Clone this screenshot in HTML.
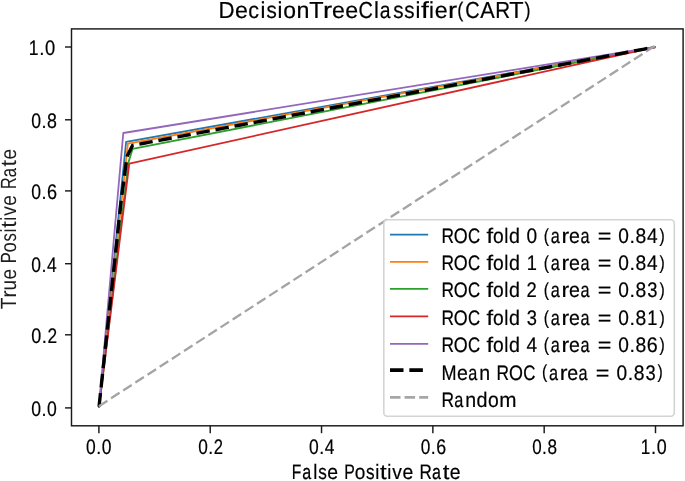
<!DOCTYPE html>
<html><head><meta charset="utf-8"><style>
html,body{margin:0;padding:0;background:#fff;}
svg{display:block;filter:blur(0.6px);}
text{font-family:"Liberation Sans", sans-serif;fill:#000;stroke:#000;stroke-width:0.2px;text-rendering:geometricPrecision;}
</style></head><body>
<svg width="685" height="481" viewBox="0 0 685 481">
<rect x="0" y="0" width="685" height="481" fill="#fff"/>
<defs><clipPath id="ax"><rect x="71.5" y="28.9" width="611.6" height="396.90000000000003"/></clipPath></defs>
<g clip-path="url(#ax)" fill="none" stroke-linejoin="round">
<polyline points="98.90,407.90 126.12,141.92 655.50,47.00" stroke="#1f77b4" stroke-width="1.8"/>
<polyline points="98.90,407.90 127.90,143.61 655.50,47.00" stroke="#ff7f0e" stroke-width="1.8"/>
<polyline points="98.90,407.90 128.51,162.13 132.57,148.95 655.50,47.00" stroke="#2ca02c" stroke-width="1.8"/>
<polyline points="98.90,407.90 129.29,163.57 655.50,47.00" stroke="#d62728" stroke-width="1.8"/>
<polyline points="98.90,407.90 123.28,133.00 655.50,47.00" stroke="#9467bd" stroke-width="1.8"/>
<polyline points="98.90,407.90 104.52,355.61 110.14,303.32 115.77,251.03 121.39,198.75 127.01,156.47 132.63,145.35 138.26,144.29 143.88,143.24 149.50,142.18 155.12,141.12 160.74,140.06 166.37,139.01 171.99,137.95 177.61,136.89 183.23,135.83 188.86,134.78 194.48,133.72 200.10,132.66 205.72,131.60 211.34,130.55 216.97,129.49 222.59,128.43 228.21,127.37 233.83,126.32 239.46,125.26 245.08,124.20 250.70,123.14 256.32,122.09 261.94,121.03 267.57,119.97 273.19,118.91 278.81,117.86 284.43,116.80 290.06,115.74 295.68,114.68 301.30,113.63 306.92,112.57 312.54,111.51 318.17,110.45 323.79,109.40 329.41,108.34 335.03,107.28 340.66,106.22 346.28,105.16 351.90,104.11 357.52,103.05 363.14,101.99 368.77,100.93 374.39,99.88 380.01,98.82 385.63,97.76 391.26,96.70 396.88,95.65 402.50,94.59 408.12,93.53 413.74,92.47 419.37,91.42 424.99,90.36 430.61,89.30 436.23,88.24 441.86,87.19 447.48,86.13 453.10,85.07 458.72,84.01 464.34,82.96 469.97,81.90 475.59,80.84 481.21,79.78 486.83,78.73 492.46,77.67 498.08,76.61 503.70,75.55 509.32,74.50 514.94,73.44 520.57,72.38 526.19,71.32 531.81,70.27 537.43,69.21 543.06,68.15 548.68,67.09 554.30,66.04 559.92,64.98 565.54,63.92 571.17,62.86 576.79,61.81 582.41,60.75 588.03,59.69 593.66,58.63 599.28,57.58 604.90,56.52 610.52,55.46 616.14,54.40 621.77,53.35 627.39,52.29 633.01,51.23 638.63,50.17 644.26,49.12 648.32,48.35" stroke="#000" stroke-width="3.4" stroke-dasharray="13.5 5.86" stroke-dashoffset="-1.3"/>
<line x1="98.9" y1="406.2" x2="655.5" y2="45.5" stroke="#a4a4a4" stroke-width="2.3" stroke-dasharray="10.14 4.35"/>
</g>
<rect x="71.5" y="28.9" width="611.6" height="396.90000000000003" fill="none" stroke="#1a1a1a" stroke-width="1.45"/>
<line x1="98.90" y1="425.8" x2="98.90" y2="433.2" stroke="#1a1a1a" stroke-width="1.45"/>
<line x1="65.0" y1="407.9" x2="71.5" y2="407.9" stroke="#1a1a1a" stroke-width="1.45"/>
<line x1="210.22" y1="425.8" x2="210.22" y2="433.2" stroke="#1a1a1a" stroke-width="1.45"/>
<line x1="65.0" y1="334.8" x2="71.5" y2="334.8" stroke="#1a1a1a" stroke-width="1.45"/>
<line x1="321.54" y1="425.8" x2="321.54" y2="433.2" stroke="#1a1a1a" stroke-width="1.45"/>
<line x1="65.0" y1="263.7" x2="71.5" y2="263.7" stroke="#1a1a1a" stroke-width="1.45"/>
<line x1="432.86" y1="425.8" x2="432.86" y2="433.2" stroke="#1a1a1a" stroke-width="1.45"/>
<line x1="65.0" y1="190.9" x2="71.5" y2="190.9" stroke="#1a1a1a" stroke-width="1.45"/>
<line x1="544.18" y1="425.8" x2="544.18" y2="433.2" stroke="#1a1a1a" stroke-width="1.45"/>
<line x1="65.0" y1="119.8" x2="71.5" y2="119.8" stroke="#1a1a1a" stroke-width="1.45"/>
<line x1="655.50" y1="425.8" x2="655.50" y2="433.2" stroke="#1a1a1a" stroke-width="1.45"/>
<line x1="65.0" y1="47.0" x2="71.5" y2="47.0" stroke="#1a1a1a" stroke-width="1.45"/>
<g><text transform="translate(86.07,454.0) scale(0.831,1)" font-size="21.0">0</text><text transform="translate(96.33,454.0) scale(0.853,1)" font-size="21.0">.</text><text transform="translate(101.87,454.0) scale(0.831,1)" font-size="21.0">0</text></g>
<g><text transform="translate(198.13,454.0) scale(0.821,1)" font-size="21.0">0</text><text transform="translate(208.26,454.0) scale(0.843,1)" font-size="21.0">.</text><text transform="translate(213.69,454.0) scale(0.792,1)" font-size="21.0">2</text></g>
<g><text transform="translate(308.92,454.0) scale(0.831,1)" font-size="21.0">0</text><text transform="translate(319.17,454.0) scale(0.853,1)" font-size="21.0">.</text><text transform="translate(324.71,454.0) scale(0.831,1)" font-size="21.0">4</text></g>
<g><text transform="translate(420.73,454.0) scale(0.821,1)" font-size="21.0">0</text><text transform="translate(430.86,454.0) scale(0.843,1)" font-size="21.0">.</text><text transform="translate(436.16,454.0) scale(0.850,1)" font-size="21.0">6</text></g>
<g><text transform="translate(532.14,454.0) scale(0.807,1)" font-size="21.0">0</text><text transform="translate(542.10,454.0) scale(0.828,1)" font-size="21.0">.</text><text transform="translate(547.42,454.0) scale(0.815,1)" font-size="21.0">8</text></g>
<g><text transform="translate(640.70,454.0) scale(0.814,1)" font-size="21.0">1</text><text transform="translate(651.07,454.0) scale(0.875,1)" font-size="21.0">.</text><text transform="translate(656.75,454.0) scale(0.852,1)" font-size="21.0">0</text></g>
<g><text transform="translate(31.21,415.79999999999995) scale(0.837,1)" font-size="21.0">0</text><text transform="translate(41.54,415.79999999999995) scale(0.859,1)" font-size="21.0">.</text><text transform="translate(47.12,415.79999999999995) scale(0.837,1)" font-size="21.0">0</text></g>
<g><text transform="translate(31.20,342.7) scale(0.856,1)" font-size="21.0">0</text><text transform="translate(41.77,342.7) scale(0.879,1)" font-size="21.0">.</text><text transform="translate(47.43,342.7) scale(0.825,1)" font-size="21.0">2</text></g>
<g><text transform="translate(31.22,271.59999999999997) scale(0.831,1)" font-size="21.0">0</text><text transform="translate(41.47,271.59999999999997) scale(0.853,1)" font-size="21.0">.</text><text transform="translate(47.01,271.59999999999997) scale(0.831,1)" font-size="21.0">4</text></g>
<g><text transform="translate(31.22,198.8) scale(0.835,1)" font-size="21.0">0</text><text transform="translate(41.52,198.8) scale(0.857,1)" font-size="21.0">.</text><text transform="translate(46.91,198.8) scale(0.864,1)" font-size="21.0">6</text></g>
<g><text transform="translate(31.21,127.7) scale(0.838,1)" font-size="21.0">0</text><text transform="translate(41.55,127.7) scale(0.860,1)" font-size="21.0">.</text><text transform="translate(47.08,127.7) scale(0.847,1)" font-size="21.0">8</text></g>
<g><text transform="translate(28.67,54.9) scale(0.834,1)" font-size="21.0">1</text><text transform="translate(39.30,54.9) scale(0.896,1)" font-size="21.0">.</text><text transform="translate(45.12,54.9) scale(0.873,1)" font-size="21.0">0</text></g>
<g><text transform="translate(218.47,18.1) scale(0.960,1)" font-size="23.2">D</text><text transform="translate(234.97,18.1) scale(1.002,1)" font-size="23.2">e</text><text transform="translate(248.28,18.1) scale(0.931,1)" font-size="23.2">c</text><text transform="translate(260.41,18.1) scale(0.949,1)" font-size="23.2">i</text><text transform="translate(266.42,18.1) scale(0.890,1)" font-size="23.2">s</text><text transform="translate(277.60,18.1) scale(0.949,1)" font-size="23.2">i</text><text transform="translate(283.26,18.1) scale(0.987,1)" font-size="23.2">o</text><text transform="translate(296.62,18.1) scale(1.001,1)" font-size="23.2">n</text><text transform="translate(309.26,18.1) scale(1.012,1)" font-size="23.2">T</text><text transform="translate(323.12,18.1) scale(1.189,1)" font-size="23.2">r</text><text transform="translate(332.05,18.1) scale(1.002,1)" font-size="23.2">e</text><text transform="translate(345.30,18.1) scale(1.002,1)" font-size="23.2">e</text><text transform="translate(358.54,18.1) scale(0.861,1)" font-size="23.2">C</text><text transform="translate(373.92,18.1) scale(0.949,1)" font-size="23.2">l</text><text transform="translate(379.83,18.1) scale(0.835,1)" font-size="23.2">a</text><text transform="translate(393.14,18.1) scale(0.890,1)" font-size="23.2">s</text><text transform="translate(404.36,18.1) scale(0.890,1)" font-size="23.2">s</text><text transform="translate(415.54,18.1) scale(0.949,1)" font-size="23.2">i</text><text transform="translate(421.06,18.1) scale(1.219,1)" font-size="23.2">f</text><text transform="translate(429.10,18.1) scale(0.949,1)" font-size="23.2">i</text><text transform="translate(434.73,18.1) scale(1.002,1)" font-size="23.2">e</text><text transform="translate(447.90,18.1) scale(1.189,1)" font-size="23.2">r</text><text transform="translate(457.35,16.67) scale(0.784,0.902)" font-size="23.2">(</text><text transform="translate(465.22,18.1) scale(0.861,1)" font-size="23.2">C</text><text transform="translate(480.18,18.1) scale(0.935,1)" font-size="23.2">A</text><text transform="translate(495.21,18.1) scale(0.888,1)" font-size="23.2">R</text><text transform="translate(509.16,18.1) scale(1.012,1)" font-size="23.2">T</text><text transform="translate(524.51,16.67) scale(0.784,0.902)" font-size="23.2">)</text></g>
<g><text transform="translate(291.86,479.0) scale(0.750,1)" font-size="20.8">F</text><text transform="translate(302.14,479.0) scale(0.774,1)" font-size="20.8">a</text><text transform="translate(313.17,479.0) scale(0.880,1)" font-size="20.8">l</text><text transform="translate(318.19,479.0) scale(0.825,1)" font-size="20.8">s</text><text transform="translate(327.19,479.0) scale(0.930,1)" font-size="20.8">e</text><text transform="translate(344.20,479.0) scale(0.762,1)" font-size="20.8">P</text><text transform="translate(354.73,479.0) scale(0.915,1)" font-size="20.8">o</text><text transform="translate(365.99,479.0) scale(0.825,1)" font-size="20.8">s</text><text transform="translate(375.29,479.0) scale(0.880,1)" font-size="20.8">i</text><text transform="translate(379.92,479.0) scale(1.151,1)" font-size="20.8">t</text><text transform="translate(387.29,479.0) scale(0.880,1)" font-size="20.8">i</text><text transform="translate(392.27,479.0) scale(0.929,1)" font-size="20.8">v</text><text transform="translate(402.57,479.0) scale(0.930,1)" font-size="20.8">e</text><text transform="translate(419.46,479.0) scale(0.824,1)" font-size="20.8">R</text><text transform="translate(431.95,479.0) scale(0.774,1)" font-size="20.8">a</text><text transform="translate(442.65,479.0) scale(1.151,1)" font-size="20.8">t</text><text transform="translate(449.72,479.0) scale(0.930,1)" font-size="20.8">e</text></g>
<g><text transform="translate(15.6,0) rotate(-90) translate(-309.13,0) scale(0.869,1)" font-size="22.0" style="stroke-width:0;fill:#1e1e1e">T</text><text transform="translate(15.6,0) rotate(-90) translate(-297.84,0) scale(1.021,1)" font-size="22.0" style="stroke-width:0;fill:#1e1e1e">r</text><text transform="translate(15.6,0) rotate(-90) translate(-290.47,0) scale(0.859,1)" font-size="22.0" style="stroke-width:0;fill:#1e1e1e">u</text><text transform="translate(15.6,0) rotate(-90) translate(-279.46,0) scale(0.861,1)" font-size="22.0" style="stroke-width:0;fill:#1e1e1e">e</text><text transform="translate(15.6,0) rotate(-90) translate(-263.16,0) scale(0.750,1)" font-size="22.0" style="stroke-width:0;fill:#1e1e1e">P</text><text transform="translate(15.6,0) rotate(-90) translate(-252.51,0) scale(0.847,1)" font-size="22.0" style="stroke-width:0;fill:#1e1e1e">o</text><text transform="translate(15.6,0) rotate(-90) translate(-241.49,0) scale(0.764,1)" font-size="22.0" style="stroke-width:0;fill:#1e1e1e">s</text><text transform="translate(15.6,0) rotate(-90) translate(-232.38,0) scale(0.815,1)" font-size="22.0" style="stroke-width:0;fill:#1e1e1e">i</text><text transform="translate(15.6,0) rotate(-90) translate(-227.85,0) scale(1.065,1)" font-size="22.0" style="stroke-width:0;fill:#1e1e1e">t</text><text transform="translate(15.6,0) rotate(-90) translate(-220.64,0) scale(0.815,1)" font-size="22.0" style="stroke-width:0;fill:#1e1e1e">i</text><text transform="translate(15.6,0) rotate(-90) translate(-215.76,0) scale(0.860,1)" font-size="22.0" style="stroke-width:0;fill:#1e1e1e">v</text><text transform="translate(15.6,0) rotate(-90) translate(-205.69,0) scale(0.861,1)" font-size="22.0" style="stroke-width:0;fill:#1e1e1e">e</text><text transform="translate(15.6,0) rotate(-90) translate(-189.15,0) scale(0.762,1)" font-size="22.0" style="stroke-width:0;fill:#1e1e1e">R</text><text transform="translate(15.6,0) rotate(-90) translate(-177.15,0) scale(0.750,1)" font-size="22.0" style="stroke-width:0;fill:#1e1e1e">a</text><text transform="translate(15.6,0) rotate(-90) translate(-166.45,0) scale(1.065,1)" font-size="22.0" style="stroke-width:0;fill:#1e1e1e">t</text><text transform="translate(15.6,0) rotate(-90) translate(-159.53,0) scale(0.861,1)" font-size="22.0" style="stroke-width:0;fill:#1e1e1e">e</text></g>
<rect x="383.8" y="219.8" width="290.49999999999994" height="196.5" rx="3.5" ry="3.5" fill="#fff" fill-opacity="0.8" stroke="#d4d4d4" stroke-width="1.6"/>
<line x1="390" y1="234.7" x2="428.2" y2="234.7" stroke="#1f77b4" stroke-width="1.8"/>
<g><text transform="translate(441.48,242.8) scale(0.824,1)" font-size="21.0">R</text><text transform="translate(453.87,242.8) scale(0.852,1)" font-size="21.0">O</text><text transform="translate(468.11,242.8) scale(0.800,1)" font-size="21.0">C</text><text transform="translate(486.42,242.8) scale(1.132,1)" font-size="21.0">f</text><text transform="translate(492.90,242.8) scale(0.916,1)" font-size="21.0">o</text><text transform="translate(504.24,242.8) scale(0.881,1)" font-size="21.0">l</text><text transform="translate(508.99,242.8) scale(0.937,1)" font-size="21.0">d</text><text transform="translate(526.50,242.8) scale(0.909,1)" font-size="21.0">0</text><text transform="translate(543.84,241.50) scale(0.750,0.902)" font-size="21.0">(</text><text transform="translate(550.78,242.8) scale(0.775,1)" font-size="21.0">a</text><text transform="translate(561.58,242.8) scale(1.104,1)" font-size="21.0">r</text><text transform="translate(569.09,242.8) scale(0.931,1)" font-size="21.0">e</text><text transform="translate(580.45,242.8) scale(0.775,1)" font-size="21.0">a</text><text transform="translate(597.68,242.8) scale(1.111,1)" font-size="21.0">=</text><text transform="translate(618.27,242.8) scale(0.909,1)" font-size="21.0">0</text><text transform="translate(629.48,242.8) scale(0.933,1)" font-size="21.0">.</text><text transform="translate(635.48,242.8) scale(0.918,1)" font-size="21.0">8</text><text transform="translate(647.05,242.8) scale(0.909,1)" font-size="21.0">4</text><text transform="translate(659.42,241.50) scale(0.750,0.902)" font-size="21.0">)</text></g>
<line x1="390" y1="261.95" x2="428.2" y2="261.95" stroke="#ff7f0e" stroke-width="1.8"/>
<g><text transform="translate(441.48,269.8) scale(0.824,1)" font-size="21.0">R</text><text transform="translate(453.87,269.8) scale(0.852,1)" font-size="21.0">O</text><text transform="translate(468.11,269.8) scale(0.800,1)" font-size="21.0">C</text><text transform="translate(486.42,269.8) scale(1.132,1)" font-size="21.0">f</text><text transform="translate(492.90,269.8) scale(0.916,1)" font-size="21.0">o</text><text transform="translate(504.24,269.8) scale(0.881,1)" font-size="21.0">l</text><text transform="translate(508.99,269.8) scale(0.937,1)" font-size="21.0">d</text><text transform="translate(526.66,269.8) scale(0.868,1)" font-size="21.0">1</text><text transform="translate(543.84,268.50) scale(0.750,0.902)" font-size="21.0">(</text><text transform="translate(550.78,269.8) scale(0.775,1)" font-size="21.0">a</text><text transform="translate(561.58,269.8) scale(1.104,1)" font-size="21.0">r</text><text transform="translate(569.09,269.8) scale(0.931,1)" font-size="21.0">e</text><text transform="translate(580.45,269.8) scale(0.775,1)" font-size="21.0">a</text><text transform="translate(597.68,269.8) scale(1.111,1)" font-size="21.0">=</text><text transform="translate(618.27,269.8) scale(0.909,1)" font-size="21.0">0</text><text transform="translate(629.48,269.8) scale(0.933,1)" font-size="21.0">.</text><text transform="translate(635.48,269.8) scale(0.918,1)" font-size="21.0">8</text><text transform="translate(647.05,269.8) scale(0.909,1)" font-size="21.0">4</text><text transform="translate(659.42,268.50) scale(0.750,0.902)" font-size="21.0">)</text></g>
<line x1="390" y1="288.9" x2="428.2" y2="288.9" stroke="#2ca02c" stroke-width="1.8"/>
<g><text transform="translate(441.48,297.3) scale(0.824,1)" font-size="21.0">R</text><text transform="translate(453.87,297.3) scale(0.852,1)" font-size="21.0">O</text><text transform="translate(468.11,297.3) scale(0.800,1)" font-size="21.0">C</text><text transform="translate(486.42,297.3) scale(1.132,1)" font-size="21.0">f</text><text transform="translate(492.90,297.3) scale(0.916,1)" font-size="21.0">o</text><text transform="translate(504.24,297.3) scale(0.881,1)" font-size="21.0">l</text><text transform="translate(508.99,297.3) scale(0.937,1)" font-size="21.0">d</text><text transform="translate(526.46,297.3) scale(0.876,1)" font-size="21.0">2</text><text transform="translate(543.84,296.00) scale(0.750,0.902)" font-size="21.0">(</text><text transform="translate(550.78,297.3) scale(0.775,1)" font-size="21.0">a</text><text transform="translate(561.58,297.3) scale(1.104,1)" font-size="21.0">r</text><text transform="translate(569.09,297.3) scale(0.931,1)" font-size="21.0">e</text><text transform="translate(580.45,297.3) scale(0.775,1)" font-size="21.0">a</text><text transform="translate(597.68,297.3) scale(1.111,1)" font-size="21.0">=</text><text transform="translate(618.27,297.3) scale(0.909,1)" font-size="21.0">0</text><text transform="translate(629.48,297.3) scale(0.933,1)" font-size="21.0">.</text><text transform="translate(635.48,297.3) scale(0.918,1)" font-size="21.0">8</text><text transform="translate(647.29,297.3) scale(0.873,1)" font-size="21.0">3</text><text transform="translate(659.42,296.00) scale(0.750,0.902)" font-size="21.0">)</text></g>
<line x1="390" y1="316.4" x2="428.2" y2="316.4" stroke="#d62728" stroke-width="1.8"/>
<g><text transform="translate(441.48,324.8) scale(0.824,1)" font-size="21.0">R</text><text transform="translate(453.87,324.8) scale(0.852,1)" font-size="21.0">O</text><text transform="translate(468.11,324.8) scale(0.800,1)" font-size="21.0">C</text><text transform="translate(486.42,324.8) scale(1.132,1)" font-size="21.0">f</text><text transform="translate(492.90,324.8) scale(0.916,1)" font-size="21.0">o</text><text transform="translate(504.24,324.8) scale(0.881,1)" font-size="21.0">l</text><text transform="translate(508.99,324.8) scale(0.937,1)" font-size="21.0">d</text><text transform="translate(526.74,324.8) scale(0.873,1)" font-size="21.0">3</text><text transform="translate(543.84,323.50) scale(0.750,0.902)" font-size="21.0">(</text><text transform="translate(550.78,324.8) scale(0.775,1)" font-size="21.0">a</text><text transform="translate(561.58,324.8) scale(1.104,1)" font-size="21.0">r</text><text transform="translate(569.09,324.8) scale(0.931,1)" font-size="21.0">e</text><text transform="translate(580.45,324.8) scale(0.775,1)" font-size="21.0">a</text><text transform="translate(597.68,324.8) scale(1.111,1)" font-size="21.0">=</text><text transform="translate(618.27,324.8) scale(0.909,1)" font-size="21.0">0</text><text transform="translate(629.48,324.8) scale(0.933,1)" font-size="21.0">.</text><text transform="translate(635.48,324.8) scale(0.918,1)" font-size="21.0">8</text><text transform="translate(647.20,324.8) scale(0.868,1)" font-size="21.0">1</text><text transform="translate(659.42,323.50) scale(0.750,0.902)" font-size="21.0">)</text></g>
<line x1="390" y1="343.9" x2="428.2" y2="343.9" stroke="#9467bd" stroke-width="1.8"/>
<g><text transform="translate(441.48,352.2) scale(0.824,1)" font-size="21.0">R</text><text transform="translate(453.87,352.2) scale(0.852,1)" font-size="21.0">O</text><text transform="translate(468.11,352.2) scale(0.800,1)" font-size="21.0">C</text><text transform="translate(486.42,352.2) scale(1.132,1)" font-size="21.0">f</text><text transform="translate(492.90,352.2) scale(0.916,1)" font-size="21.0">o</text><text transform="translate(504.24,352.2) scale(0.881,1)" font-size="21.0">l</text><text transform="translate(508.99,352.2) scale(0.937,1)" font-size="21.0">d</text><text transform="translate(526.50,352.2) scale(0.909,1)" font-size="21.0">4</text><text transform="translate(543.84,350.90) scale(0.750,0.902)" font-size="21.0">(</text><text transform="translate(550.78,352.2) scale(0.775,1)" font-size="21.0">a</text><text transform="translate(561.58,352.2) scale(1.104,1)" font-size="21.0">r</text><text transform="translate(569.09,352.2) scale(0.931,1)" font-size="21.0">e</text><text transform="translate(580.45,352.2) scale(0.775,1)" font-size="21.0">a</text><text transform="translate(597.68,352.2) scale(1.111,1)" font-size="21.0">=</text><text transform="translate(618.27,352.2) scale(0.909,1)" font-size="21.0">0</text><text transform="translate(629.48,352.2) scale(0.933,1)" font-size="21.0">.</text><text transform="translate(635.48,352.2) scale(0.918,1)" font-size="21.0">8</text><text transform="translate(646.87,352.2) scale(0.940,1)" font-size="21.0">6</text><text transform="translate(659.42,350.90) scale(0.750,0.902)" font-size="21.0">)</text></g>
<line x1="390" y1="370.1" x2="428.2" y2="370.1" stroke="#000" stroke-width="3.8" stroke-dasharray="13.5 5.86"/>
<g><text transform="translate(441.42,379.6) scale(0.860,1)" font-size="21.0">M</text><text transform="translate(456.92,379.6) scale(0.931,1)" font-size="21.0">e</text><text transform="translate(468.29,379.6) scale(0.775,1)" font-size="21.0">a</text><text transform="translate(479.34,379.6) scale(0.930,1)" font-size="21.0">n</text><text transform="translate(496.58,379.6) scale(0.825,1)" font-size="21.0">R</text><text transform="translate(508.97,379.6) scale(0.853,1)" font-size="21.0">O</text><text transform="translate(523.22,379.6) scale(0.801,1)" font-size="21.0">C</text><text transform="translate(541.98,378.30) scale(0.750,0.902)" font-size="21.0">(</text><text transform="translate(548.92,379.6) scale(0.775,1)" font-size="21.0">a</text><text transform="translate(559.73,379.6) scale(1.105,1)" font-size="21.0">r</text><text transform="translate(567.24,379.6) scale(0.931,1)" font-size="21.0">e</text><text transform="translate(578.61,379.6) scale(0.775,1)" font-size="21.0">a</text><text transform="translate(595.85,379.6) scale(1.111,1)" font-size="21.0">=</text><text transform="translate(616.45,379.6) scale(0.909,1)" font-size="21.0">0</text><text transform="translate(627.67,379.6) scale(0.933,1)" font-size="21.0">.</text><text transform="translate(633.67,379.6) scale(0.919,1)" font-size="21.0">8</text><text transform="translate(645.48,379.6) scale(0.873,1)" font-size="21.0">3</text><text transform="translate(657.62,378.30) scale(0.750,0.902)" font-size="21.0">)</text></g>
<line x1="390" y1="397.4" x2="428.2" y2="397.4" stroke="#a6a6a6" stroke-width="2.8" stroke-dasharray="10.5 4.1"/>
<g><text transform="translate(441.47,406.7) scale(0.828,1)" font-size="21.0">R</text><text transform="translate(454.14,406.7) scale(0.778,1)" font-size="21.0">a</text><text transform="translate(465.23,406.7) scale(0.933,1)" font-size="21.0">n</text><text transform="translate(476.57,406.7) scale(0.940,1)" font-size="21.0">d</text><text transform="translate(488.12,406.7) scale(0.920,1)" font-size="21.0">o</text><text transform="translate(499.32,406.7) scale(0.986,1)" font-size="21.0">m</text></g>
</svg>
</body></html>
